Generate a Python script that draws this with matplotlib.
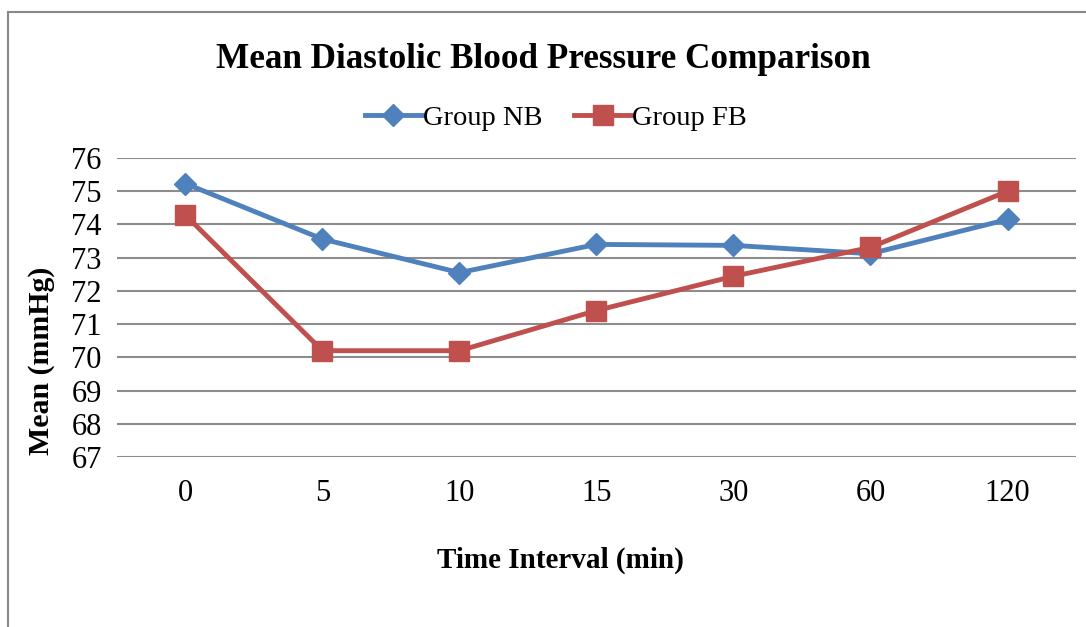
import matplotlib
matplotlib.use("Agg")
from matplotlib import pyplot as plt
from matplotlib.lines import Line2D

time_labels = ["0", "5", "10", "15", "30", "60", "120"]
group_nb = [75.23, 73.56, 72.55, 73.40, 73.37, 73.12, 74.15]
group_fb = [74.28, 70.20, 70.20, 71.41, 72.44, 73.31, 75.00]
y_ticks = list(range(67, 77))

blue = "#4F81BD"
red = "#C0504D"
grid_gray = "#8C8C8C"

plt.rcParams["font.family"] = ["Liberation Serif", "DejaVu Serif"]

fig = plt.figure(figsize=(10.86, 6.27), dpi=100)
ax = fig.add_axes([0.1077, 0.2711, 0.8831, 0.4769])

x = list(range(len(time_labels)))
ax.plot(x, group_nb, color=blue, lw=3.5, marker="D", markersize=11,
        label="Group NB", solid_joinstyle="round")
ax.plot(x, group_fb, color=red, lw=3.5, marker="s", markersize=14,
        label="Group FB", solid_joinstyle="round")

ax.set_xlim(-0.5, len(time_labels) - 0.5)
ax.set_ylim(67, 76)
ax.set_yticks(y_ticks)
ax.set_xticks(x)
ax.set_xticklabels(time_labels)
ax.yaxis.grid(True, color=grid_gray, lw=1.5)
ax.set_axisbelow(True)
for s in ax.spines.values():
    s.set_visible(False)
ax.tick_params(length=0, labelsize=22)
ax.tick_params(axis="x", pad=16)
ax.tick_params(axis="y", pad=11)

fig.text(0.038, 0.424, "Mean (mmHg)", rotation=90, ha="center", va="center",
         fontsize=21.5, fontweight="bold")
fig.text(0.516, 0.107, "Time Interval (min)", ha="center", va="center",
         fontsize=21, fontweight="bold")
fig.text(0.5, 0.905, "Mean Diastolic Blood Pressure Comparison", ha="center",
         va="center", fontsize=25.3, fontweight="bold")

handles = [Line2D([], [], color=blue, lw=3.5, marker="D", markersize=11),
           Line2D([], [], color=red, lw=3.5, marker="s", markersize=14)]
fig.legend(handles, ["Group NB", "Group FB"], loc="center",
           bbox_to_anchor=(0.512, 0.812), ncol=2, frameon=False, fontsize=20.5,
           handlelength=2.0, handletextpad=0.05, columnspacing=1.1)

# chart frame (left and top edges only)
fig.add_artist(Line2D([0.0075, 0.0075], [0.0, 0.981], color="#888888", lw=1.5,
                      transform=fig.transFigure))
fig.add_artist(Line2D([0.0075, 1.0], [0.981, 0.981], color="#888888", lw=1.5,
                      transform=fig.transFigure))

fig.savefig("out.png", dpi=100)
